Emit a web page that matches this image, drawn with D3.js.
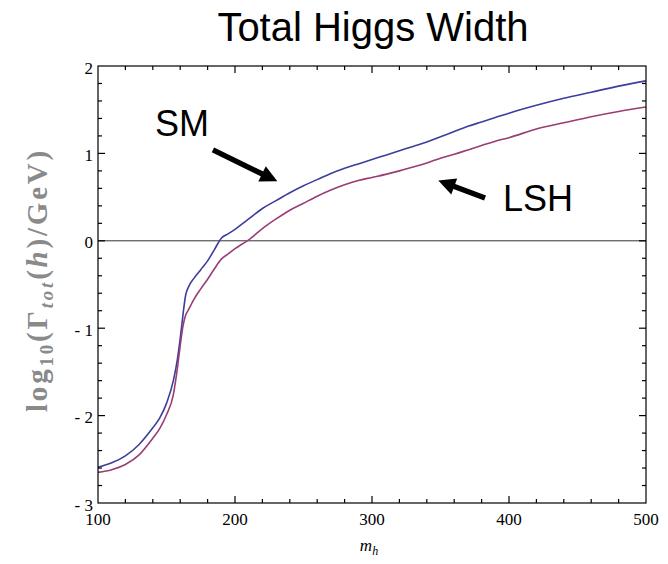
<!DOCTYPE html>
<html><head><meta charset="utf-8">
<script src="https://cdn.jsdelivr.net/npm/d3@7"></script>
<style>body{margin:0;background:#fff}svg{display:block}</style>
</head><body>
<svg id="c" width="668" height="564"></svg>
<script>
const massGrid = [100,110,120,130,140,145,150,155,158,160,162,164,166,170,175,180,185,190,195,200,205,210,220,230,240,250,260,270,280,290,300,310,320,330,340,350,360,370,380,390,400,420,440,460,480,500];
const smWidth  = [-2.59,-2.54,-2.46,-2.33,-2.14,-2.03,-1.86,-1.60,-1.35,-1.12,-0.85,-0.62,-0.53,-0.43,-0.33,-0.23,-0.10,0.03,0.08,0.13,0.19,0.25,0.37,0.46,0.55,0.63,0.70,0.77,0.83,0.88,0.93,0.98,1.03,1.08,1.13,1.19,1.25,1.31,1.36,1.41,1.46,1.55,1.63,1.70,1.77,1.83];
const lshWidth = [-2.65,-2.62,-2.56,-2.45,-2.26,-2.15,-1.99,-1.76,-1.45,-1.20,-0.98,-0.85,-0.79,-0.67,-0.55,-0.44,-0.32,-0.21,-0.15,-0.09,-0.04,0.01,0.14,0.25,0.35,0.43,0.51,0.58,0.64,0.69,0.725,0.76,0.80,0.845,0.89,0.945,0.99,1.04,1.09,1.14,1.18,1.28,1.35,1.42,1.48,1.53];
const xTicks = [100,200,300,400,500];
const yTicks = [2,1,0,-1,-2,-3];
const seriesNames = ["SM","LSH"];
const seriesColors = ["#3d3d9c","#993d74"];
// annotations in data coordinates
const labels = [{t:"SM", m:141.6, v:1.20},{t:"LSH", m:395.6, v:0.34}];
const arrows = [{m0:183.9,v0:1.04,m1:230.9,v1:0.68},{m0:382.5,v0:0.49,m1:348.4,v1:0.69}];

const svg = d3.select("#c");
svg.append("rect").attr("width",668).attr("height",564).attr("fill","#fff");
const x = d3.scaleLinear().domain([100,500]).range([98,646]);
const y = d3.scaleLinear().domain([-3,2]).range([503,66]);

const serif = "'Liberation Serif','Times New Roman',serif";
const sans = "'Liberation Sans',Arial,sans-serif";

// title
svg.append("text").attr("x",373).attr("y",41).attr("text-anchor","middle")
  .attr("font-family",sans).attr("font-size",40).attr("fill","#000").text("Total Higgs Width");

// zero line
svg.append("line").attr("x1",x(100)).attr("x2",x(500)).attr("y1",y(0)).attr("y2",y(0))
  .attr("stroke","#333").attr("stroke-width",1);

// curves
const line = d3.line().x(d=>x(d[0])).y(d=>y(d[1])).curve(d3.curveMonotoneX);
[smWidth, lshWidth].forEach((vals,i)=>{
  svg.append("path").datum(massGrid.map((m,j)=>[m,vals[j]]))
    .attr("d",line).attr("fill","none").attr("stroke",seriesColors[i]).attr("stroke-width",1.6);
});

// frame
const g = svg.append("g").attr("stroke","#000").attr("stroke-width",1.2);
g.append("rect").attr("x",x(100)).attr("y",y(2)).attr("width",x(500)-x(100)).attr("height",y(-3)-y(2))
  .attr("fill","none");
const xMinor = d3.range(100,501,20);
xMinor.forEach(v=>{
  const major = v%100===0;
  const L = major?7:4;
  if (v>100 && v<500){
    g.append("line").attr("x1",x(v)).attr("x2",x(v)).attr("y1",y(-3)).attr("y2",y(-3)-L);
    g.append("line").attr("x1",x(v)).attr("x2",x(v)).attr("y1",y(2)).attr("y2",y(2)+L);
  }
});
const yMinor = d3.range(-3,2.001,0.2).map(v=>Math.round(v*10)/10);
yMinor.forEach(v=>{
  const major = Math.abs(v-Math.round(v))<1e-6;
  const L = major?7:4;
  if (v>-3 && v<2){
    g.append("line").attr("x1",x(100)).attr("x2",x(100)+L).attr("y1",y(v)).attr("y2",y(v));
    g.append("line").attr("x1",x(500)).attr("x2",x(500)-L).attr("y1",y(v)).attr("y2",y(v));
  }
});
// tick labels
const fmt = v => v<0 ? "- "+Math.abs(v) : String(v);
svg.append("g").selectAll("text").data(xTicks).join("text")
  .attr("x",d=>x(d)).attr("y",525).attr("text-anchor","middle")
  .attr("font-family",serif).attr("font-size",17).attr("fill","#000").text(d=>d);
svg.append("g").selectAll("text").data(yTicks).join("text")
  .attr("x",93).attr("y",d=>y(d)+7.5).attr("text-anchor","end")
  .attr("font-family",serif).attr("font-size",17).attr("fill","#000").text(fmt);

// x axis label
const xl = svg.append("text").attr("x",369).attr("y",551).attr("text-anchor","middle")
  .attr("font-family",serif).attr("font-size",17).attr("font-style","italic").attr("fill","#000");
xl.append("tspan").text("m");
xl.append("tspan").attr("font-size",12).attr("dy",4).text("h");

// y axis label
const yl = svg.append("text").attr("transform","translate(47,280) rotate(-90)").attr("text-anchor","middle")
  .attr("font-family",serif).attr("font-size",29).attr("font-weight","bold").attr("fill","#8a8a8a");
yl.append("tspan").text("log");
yl.append("tspan").attr("font-size",19).attr("dy",6).text("10");
yl.append("tspan").attr("dy",-6).text("(Γ");
yl.append("tspan").attr("font-size",19).attr("font-style","italic").attr("dy",6).text("tot");
yl.append("tspan").attr("dy",-6).text("(");
yl.append("tspan").attr("font-style","italic").text("h");
yl.append("tspan").text(")/GeV)");
{
  const L = yl.node().getComputedTextLength();
  const n = "log10(Γtot(h)/GeV)".length;
  const ls = Math.max(0,(264-L)/n);
  yl.attr("letter-spacing",ls);
}

// annotations
labels.forEach(l=>{
  svg.append("text").attr("x",x(l.m)).attr("y",y(l.v)).attr("font-family",sans)
    .attr("font-size",36).attr("fill","#000").text(l.t);
});
arrows.forEach(a=>{
  const x0=x(a.m0), y0=y(a.v0), x1=x(a.m1), y1=y(a.v1);
  const dx=x1-x0, dy=y1-y0, len=Math.hypot(dx,dy), ux=dx/len, uy=dy/len;
  const hl=17, hw=8.5;
  const bx=x1-ux*hl, by=y1-uy*hl;
  svg.append("line").attr("x1",x0).attr("y1",y0).attr("x2",bx+ux*2).attr("y2",by+uy*2)
    .attr("stroke","#000").attr("stroke-width",5.5);
  svg.append("polygon").attr("points",[[x1,y1],[bx-uy*hw,by+ux*hw],[bx+uy*hw,by-ux*hw]].map(p=>p.join(",")).join(" "))
    .attr("fill","#000");
});
</script>
</body></html>
